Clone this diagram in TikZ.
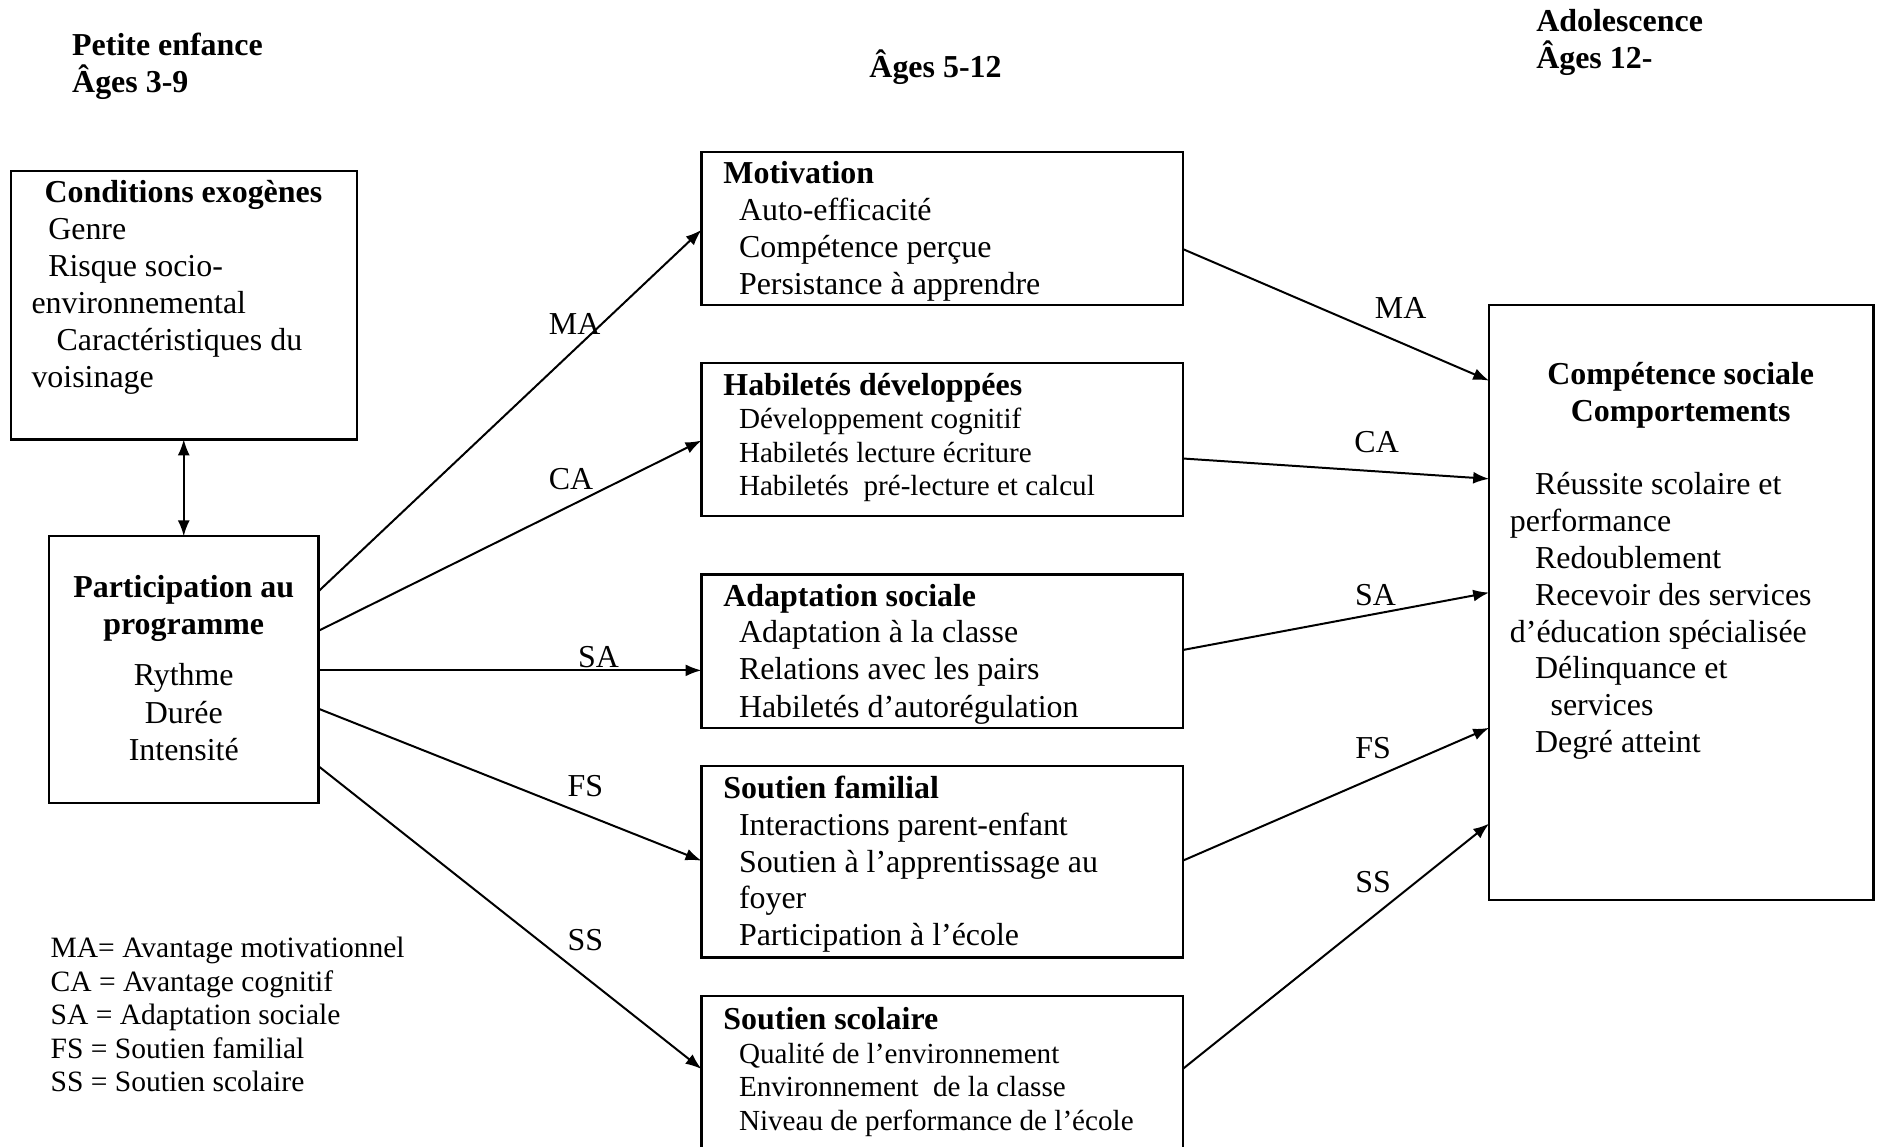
\documentclass[tikz,border=0pt]{standalone}
\usepackage{fontspec}
\setmainfont{Liberation Serif}
\usetikzlibrary{arrows.meta,calc}
\begin{document}
\begin{tikzpicture}[x=0.6pt,y=-0.6pt,
  bx/.style 2 args={draw,line width=1.2pt,anchor=north west,inner sep=0pt,outer sep=0pt,
     minimum width=#1*0.6pt,minimum height=#2*0.6pt},
  txt/.style={anchor=base west,inner sep=0pt,font=\fontsize{16}{18.6}\selectfont},
  txtb/.style={anchor=base west,inner sep=0pt,font=\fontsize{16}{18.6}\selectfont\bfseries},
  txts/.style={anchor=base west,inner sep=0pt,font=\fontsize{14.6}{17}\selectfont},
  txtc/.style={anchor=base,inner sep=0pt,font=\fontsize{16}{18.6}\selectfont},
  txtcb/.style={anchor=base,inner sep=0pt,font=\fontsize{16}{18.6}\selectfont\bfseries},
  leg/.style={anchor=base west,inner sep=0pt,font=\fontsize{14.8}{17}\selectfont},
  lab/.style={inner sep=0pt,font=\fontsize{16}{18.6}\selectfont},
  arr/.style={line width=1pt,-{Latex[length=8pt,width=6pt]}},
  arr2/.style={line width=1pt,{Latex[length=8pt,width=6pt]}-{Latex[length=8pt,width=6pt]}}]
\useasboundingbox (0,0) rectangle (1568,958);
\clip (0,0) rectangle (1568,958);
\fill[white] (0,0) rectangle (1568,958);

% headers
\node[txtb] (h1) at (60,46) {Petite enfance};
\node[txtb] (h2) at (60,77) {Âges 3-9};
\node[txtb] (h3) at (726,65) {Âges 5-12};
\node[txtb] (h4) at (1283,26) {Adolescence};
\node[txtb] (h5) at (1283,57) {Âges 12-};

% boxes
\node[bx={289}{224}] (cond) at (9,143) {};
\node[bx={225}{223}] (part) at (41,448) {};
\node[bx={402}{128}] (mot) at (586,127) {};
\node[bx={402}{128}] (hab) at (586,303) {};
\node[bx={402}{128}] (adap) at (586,480) {};
\node[bx={402}{160}] (fam) at (586,640) {};
\node[bx={402}{200}] (scol) at (586,832) {};
\node[bx={321}{497}] (comp) at (1244,255) {};

% conditions
\node[txtb] (c0) at (37,169) {Conditions exogènes};
\node[txt] (c1) at (40,200) {Genre};
\node[txt] (c2) at (40,231) {Risque socio-};
\node[txt] (c3) at (26,262) {environnemental};
\node[txt] (c4) at (47,293) {Caractéristiques du};
\node[txt] (c5) at (26,324) {voisinage};

% participation
\node[txtcb] (p0) at (153.5,499) {Participation au};
\node[txtcb] (p1) at (153.5,530) {programme};
\node[txtc] (p2) at (153.5,573) {Rythme};
\node[txtc] (p3) at (153.5,604) {Durée};
\node[txtc] (p4) at (153.5,635) {Intensité};

% motivation
\node[txtb] (m0) at (604,153) {Motivation};
\node[txt] (m1) at (617,184) {Auto-efficacité};
\node[txt] (m2) at (617,215) {Compétence perçue};
\node[txt] (m3) at (617,246) {Persistance à apprendre};

% habiletes
\node[txtb] (b0) at (604,330) {Habiletés développées};
\node[txts] (b1) at (617,358) {Développement cognitif};
\node[txts] (b2) at (617,386) {Habiletés lecture écriture};
\node[txts] (b3) at (617,414) {Habiletés~ pré-lecture et calcul};

% adaptation
\node[txtb] (a0) at (604,507) {Adaptation sociale};
\node[txt] (a1) at (617,537) {Adaptation à la classe};
\node[txt] (a2) at (617,568) {Relations avec les pairs};
\node[txt] (a3) at (617,599) {Habiletés d’autorégulation};

% soutien familial
\node[txtb] (f0) at (604,667) {Soutien familial};
\node[txt] (f1) at (617,698) {Interactions parent-enfant};
\node[txt] (f2) at (617,729) {Soutien à l’apprentissage au};
\node[txt] (f3) at (617,759) {foyer};
\node[txt] (f4) at (617,790) {Participation à l’école};

% soutien scolaire
\node[txtb] (s0) at (604,860) {Soutien scolaire};
\node[txts] (s1) at (617,888) {Qualité de l’environnement};
\node[txts] (s2) at (617,916) {Environnement~ de la classe};
\node[txts] (s3) at (617,944) {Niveau de performance de l’école};

% competence
\node[txtcb] (k0) at (1404,321) {Compétence sociale};
\node[txtcb] (k1) at (1404,352) {Comportements};
\node[txt] (k2) at (1282,413) {Réussite scolaire et};
\node[txt] (k3) at (1261,444) {performance};
\node[txt] (k4) at (1282,475) {Redoublement};
\node[txt] (k5) at (1282,506) {Recevoir des services};
\node[txt] (k6) at (1261,537) {d’éducation spécialisée};
\node[txt] (k7) at (1282,567) {Délinquance et};
\node[txt] (k8) at (1295,598) {services};
\node[txt] (k9) at (1282,629) {Degré atteint};

% legend
\node[leg] (l1) at (42,800) {MA= Avantage motivationnel};
\node[leg] (l2) at (42,828) {CA = Avantage cognitif};
\node[leg] (l3) at (42,856) {SA = Adaptation sociale};
\node[leg] (l4) at (42,884) {FS = Soutien familial};
\node[leg] (l5) at (42,912) {SS = Soutien scolaire};

% connectors
\draw[arr2] (cond.south) -- (part.north);

\draw[arr] ($(part.north east)+(0,46)$) -- ($(mot.north west)+(0,65)$);
\draw[arr] ($(part.north east)+(0,79)$) -- ($(hab.north west)+(0,65)$);
\draw[arr] ($(part.north east)+(0,112)$) -- ($(adap.north west)+(0,80)$);
\draw[arr] ($(part.north east)+(0,144)$) -- ($(fam.north west)+(0,79)$);
\draw[arr] ($(part.north east)+(0,192)$) -- ($(scol.north west)+(0,61)$);

\draw[arr] ($(mot.north east)+(0,81)$) -- ($(comp.north west)+(0,63)$);
\draw[arr] ($(hab.north east)+(0,80)$) -- ($(comp.north west)+(0,145)$);
\draw[arr] ($(adap.north east)+(0,63)$) -- ($(comp.north west)+(0,240)$);
\draw[arr] ($(fam.north east)+(0,79)$) -- ($(comp.north west)+(0,353)$);
\draw[arr] ($(scol.north east)+(0,61)$) -- ($(comp.north west)+(0,433)$);

% connector labels
\node[lab] (lma1) at (480,271) {MA};
\node[lab] (lca1) at (477,400) {CA};
\node[lab] (lsa1) at (500,549) {SA};
\node[lab] (lfs1) at (489,657) {FS};
\node[lab] (lss1) at (489,785) {SS};
\node[lab] (lma2) at (1170,257) {MA};
\node[lab] (lca2) at (1150,369) {CA};
\node[lab] (lsa2) at (1149,497) {SA};
\node[lab] (lfs2) at (1147,625) {FS};
\node[lab] (lss2) at (1147,737) {SS};
\end{tikzpicture}
\end{document}
